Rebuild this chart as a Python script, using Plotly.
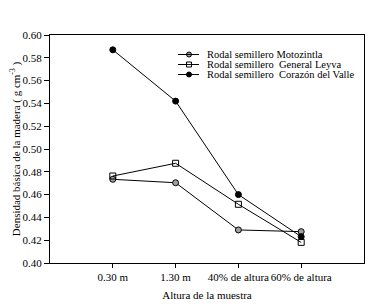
import plotly.graph_objects as go

categories = ["0.30 m", "1.30 m", "40% de altura", "60% de altura"]
motozintla = [0.4734, 0.4704, 0.429, 0.4275]
general_leyva = [0.4763, 0.4875, 0.4515, 0.4181]
corazon = [0.587, 0.542, 0.460, 0.4231]
series_names = ["Rodal semillero Motozintla", "Rodal semillero  General Leyva",
                "Rodal semillero  Corazón del Valle"]
y_ticks = [0.40, 0.42, 0.44, 0.46, 0.48, 0.50, 0.52, 0.54, 0.56, 0.58, 0.60]

FONT = "Liberation Serif"
xpos = list(range(len(categories)))

fig = go.Figure()
styles = [
    dict(symbol="circle", color="#a0a0a0", size=6, line=dict(color="black", width=1)),
    dict(symbol="square-open", color="black", size=6, line=dict(color="black", width=1)),
    dict(symbol="circle", color="black", size=6, line=dict(color="black", width=1)),
]
for name, vals, st in zip(series_names, [motozintla, general_leyva, corazon], styles):
    fig.add_trace(go.Scatter(x=xpos, y=vals, mode="lines+markers", name=name,
                             line=dict(color="black", width=1),
                             marker=st, showlegend=False))

# manual legend (paper coords): plot area on page x 50..364, y 35..263
W, H, L, T = 314, 228, 50, 35
def px(x): return (x - L) / W
def py(y): return 1 - (y - T) / H
rows = [54.5, 64.5, 74.5]
for name, st, yy in zip(series_names, styles, rows):
    fig.add_shape(type="line", xref="paper", yref="paper", x0=px(178), x1=px(199),
                  y0=py(yy), y1=py(yy), line=dict(color="black", width=1))
    lst = dict(st)
    lst["size"] = 5
    fig.add_trace(go.Scatter(x=[px(189)], y=[py(yy)], xaxis="x2", yaxis="y2",
                             mode="markers", marker=lst,
                             showlegend=False, hoverinfo="skip"))
    fig.add_annotation(x=px(205), y=py(yy), xref="paper", yref="paper", text=name,
                       showarrow=False, xanchor="left", yanchor="middle",
                       font=dict(family=FONT, size=10.5, color="black"))

# page body has an 8px margin: shrink figure so the plot area lands where it should
fig.update_layout(
    width=376, height=299,
    margin=dict(l=42, r=20, t=27, b=44),
    paper_bgcolor="white", plot_bgcolor="white",
    font=dict(family=FONT, size=11, color="black"),
    xaxis=dict(range=[-1, 4], tickvals=xpos, ticktext=categories, showgrid=False,
               zeroline=False, showline=True, mirror=True, linecolor="black", linewidth=1,
               ticks="outside", ticklen=4, tickcolor="black", automargin=False,
               tickangle=0, tickfont=dict(family=FONT, size=11),
               title=dict(text="Altura de la muestra", standoff=9,
                          font=dict(family=FONT, size=11))),
    yaxis=dict(range=[0.40, 0.60], tickvals=y_ticks, tickformat=".2f", showgrid=False,
               zeroline=False, showline=True, mirror=True, linecolor="black", linewidth=1,
               ticks="outside", ticklen=5, tickcolor="black", automargin=False,
               tickfont=dict(family=FONT, size=11),
               title=dict(text="Densidad básica de la madera ( g cm<sup>-3</sup> )",
                          standoff=4, font=dict(family=FONT, size=11))),
    xaxis2=dict(range=[0, 1], overlaying="x", visible=False),
    yaxis2=dict(range=[0, 1], overlaying="y", visible=False),
)

fig.write_html("out.html")
